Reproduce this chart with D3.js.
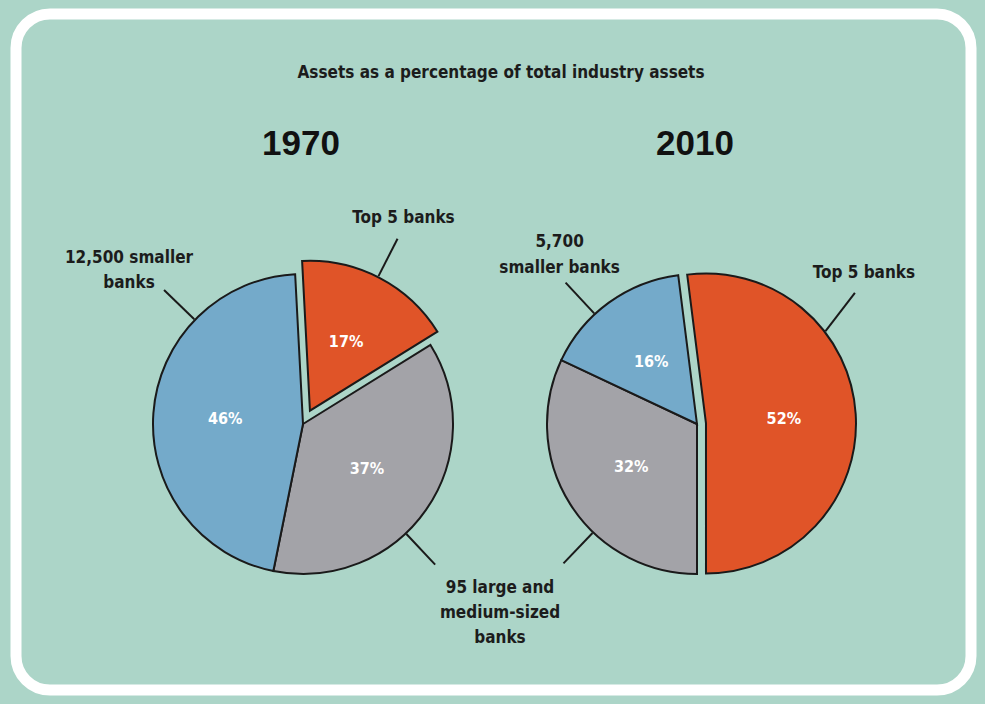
<!DOCTYPE html>
<meta charset="utf-8">
<style>
  body { margin: 0; background: #acd5c8; }
  svg text { font-family: "Liberation Sans Narrow", "Arial Narrow", "DejaVu Sans Condensed", sans-serif; font-weight: bold; }
</style>
<script src="https://d3js.org/d3.v7.min.js"></script>
<div id="chart"></div>
<script>

// data
var years = ["1970", "2010"];
var categories = ["Top 5 banks", "95 large and medium-sized banks", "smaller banks"];
var shares1970 = [17, 37, 46];
var shares2010 = [52, 32, 16];
var smallBankCounts = ["12,500", "5,700"];
var title = "Assets as a percentage of total industry assets";

// layout
var width = 985, height = 704;
var radius = 150;
var colors = ["#e05428", "#a3a3a8", "#74aaca"];
var startDeg = [-3, -7.2];      // where the red slice begins on each pie
var explode = [15, 9];          // how far the "Top 5" slice is pulled out

var svg = d3.select("#chart")
  .append("svg")
    .attr("width", width)
    .attr("height", height);

// hand drawn looking white frame
svg.append("rect")
    .attr("x", 16).attr("y", 14)
    .attr("width", 955).attr("height", 676)
    .attr("rx", 34)
    .attr("fill", "none")
    .attr("stroke", "#fff")
    .attr("stroke-width", 11);

svg.append("text")
    .attr("x", 501).attr("y", 78)
    .attr("text-anchor", "middle")
    .attr("font-size", 17)
    .attr("fill", "#1c1c1c")
    .text(title);

var x = d3.scalePoint().domain(years).range([303, 697]);
var cy = 424;

var arc = d3.arc().innerRadius(0).outerRadius(radius);
var toRad = Math.PI / 180;

var allShares = [shares1970, shares2010];

var pies = years.map(function(year, i) {
  var s = startDeg[i] * toRad;
  var slices = d3.pie().sort(null).startAngle(s).endAngle(s + 2 * Math.PI)(allShares[i]);
  return { year: year, slices: slices, i: i };
});

function shift(d, i) {
  if (d.index !== 0) return [0, 0];
  var m = (d.startAngle + d.endAngle) / 2;
  return [Math.sin(m) * explode[i], -Math.cos(m) * explode[i]];
}

pies.forEach(function(p) {
  var g = svg.append("g")
      .attr("transform", "translate(" + x(p.year) + "," + cy + ")");

  g.append("text")
      .attr("x", -2).attr("y", -269)
      .attr("text-anchor", "middle")
      .style("font-family", "'Liberation Sans', Arial, sans-serif")
      .attr("font-size", 35)
      .attr("fill", "#111")
      .text(p.year);

  var slice = g.selectAll(".slice")
    .data(p.slices)
    .enter()
    .append("g")
      .attr("transform", function(d) { var o = shift(d, p.i); return "translate(" + o[0] + "," + o[1] + ")"; });

  slice.append("path")
      .attr("d", arc)
      .attr("fill", function(d) { return colors[d.index]; })
      .attr("stroke", "#1a1a1a")
      .attr("stroke-width", 2);

  slice.append("text")
      .attr("transform", function(d) {
        var m = (d.startAngle + d.endAngle) / 2, r = radius * 0.52;
        return "translate(" + (Math.sin(m) * r) + "," + (-Math.cos(m) * r) + ")";
      })
      .attr("dy", "0.36em")
      .attr("text-anchor", "middle")
      .attr("font-size", 16)
      .attr("fill", "#fff")
      .text(function(d) { return d.data + "%"; });
});

// callouts: which slice, where along it the leader starts (t) and ends (t2),
// its reach past the rim, and text placement from the outer end
var callouts = [
  { pie: 0, slice: 0, t: 0.49, lines: [categories[0]], dx: 6, dy: [-16] },
  { pie: 0, slice: 2, t: 0.74, lines: [smallBankCounts[0] + " smaller", "banks"], dx: -35, dy: [-27, -2] },
  { pie: 0, slice: 1, t: 0.59, lines: [] },
  { pie: 1, slice: 2, t: 0.38, lines: [smallBankCounts[1], "smaller banks"], dx: -6, dy: [-36, -10] },
  { pie: 1, slice: 0, t: 0.318, t2: 0.299, reach: 48, lines: [categories[0]], dx: 9, dy: [-15] },
  { pie: 1, slice: 1, t: 0.38, lines: [] }
];

callouts.forEach(function(c) {
  var d = pies[c.pie].slices[c.slice];
  var o = shift(d, c.pie);
  var span = d.endAngle - d.startAngle;
  var a1 = d.startAngle + c.t * span;
  var a2 = d.startAngle + (c.t2 == null ? c.t : c.t2) * span;
  var reach = c.reach || 43;
  var x0 = x(years[c.pie]) + o[0], y0 = cy + o[1];
  var x1 = x0 + Math.sin(a1) * (radius + 1), y1 = y0 - Math.cos(a1) * (radius + 1);
  var x2 = x0 + Math.sin(a2) * (radius + reach), y2 = y0 - Math.cos(a2) * (radius + reach);
  svg.append("line")
      .attr("x1", x1).attr("y1", y1)
      .attr("x2", x2).attr("y2", y2)
      .attr("stroke", "#1a1a1a")
      .attr("stroke-width", 2);
  c.lines.forEach(function(line, k) {
    svg.append("text")
        .attr("x", x2 + c.dx).attr("y", y2 + c.dy[k])
        .attr("text-anchor", "middle")
        .attr("font-size", 17)
        .attr("fill", "#1c1c1c")
        .text(line);
  });
});

// shared label for the middle group sits between the two pies
var midLines = ["95 large and", "medium-sized", "banks"];
midLines.forEach(function(line, k) {
  svg.append("text")
      .attr("x", (x(years[0]) + x(years[1])) / 2)
      .attr("y", cy + 169 + k * 25)
      .attr("text-anchor", "middle")
      .attr("font-size", 17)
      .attr("fill", "#1c1c1c")
      .text(line);
});

</script>
